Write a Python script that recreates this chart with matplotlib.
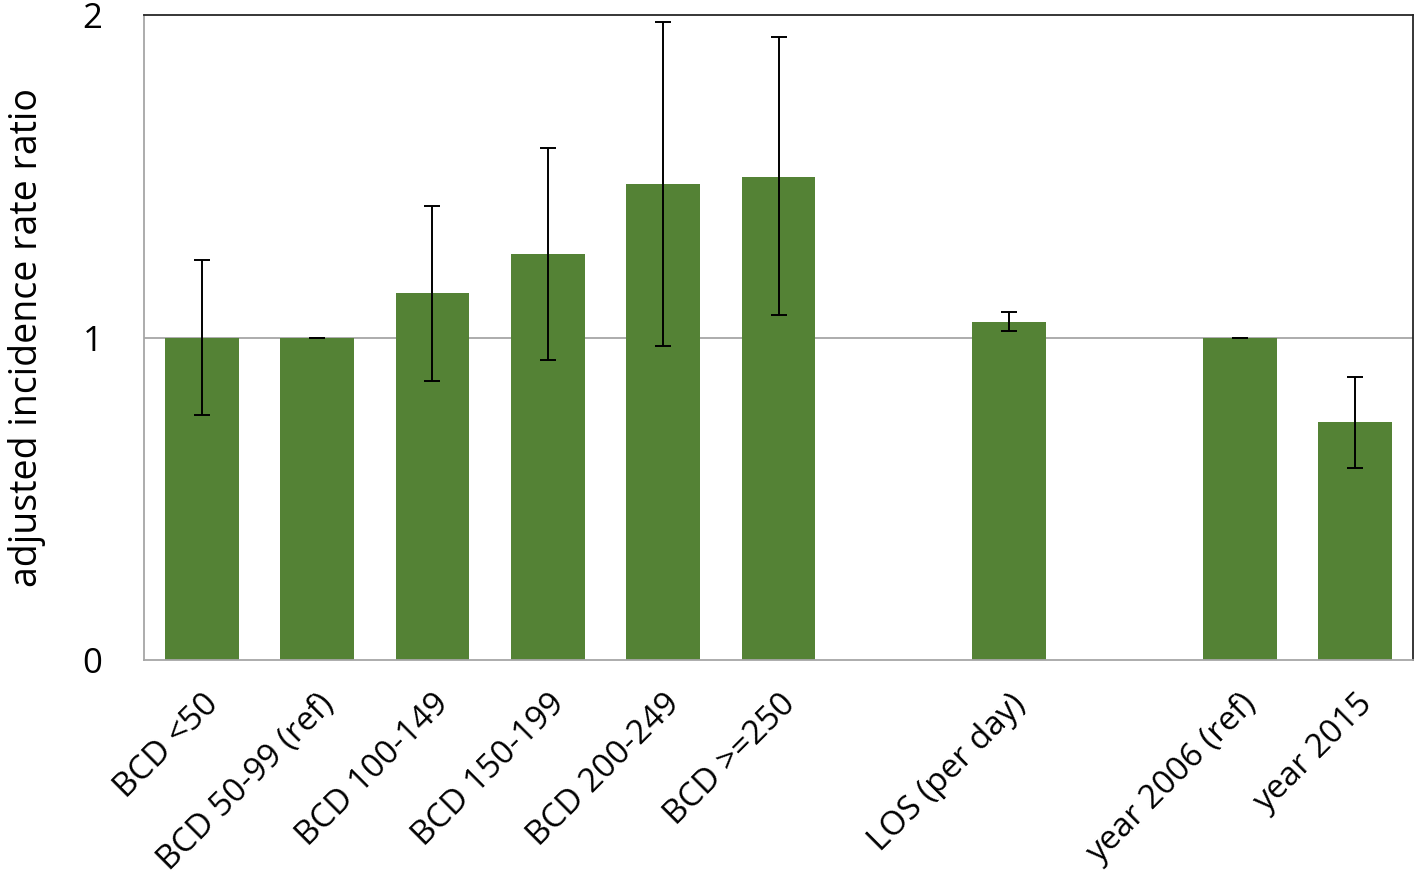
import numpy as np
import matplotlib
matplotlib.use("Agg")
import matplotlib.pyplot as plt

plt.rcParams['font.family'] = ['Open Sans', 'DejaVu Sans']

# empty strings are the gaps between the groups
categories = ["BCD <50", "BCD 50-99 (ref)", "BCD 100-149", "BCD 150-199",
              "BCD 200-249", "BCD >=250", "", "LOS (per day)", "",
              "year 2006 (ref)", "year 2015"]
irr = [1.00, 1.00, 1.138, 1.259, 1.476, 1.498, np.nan, 1.048, np.nan, 1.00, 0.738]
ci_low = [0.76, 1.00, 0.865, 0.930, 0.974, 1.070, np.nan, 1.020, np.nan, 1.00, 0.595]
ci_high = [1.24, 1.00, 1.408, 1.588, 1.978, 1.932, np.nan, 1.079, np.nan, 1.00, 0.878]

irr = np.array(irr)
yerr = np.array([irr - np.array(ci_low), np.array(ci_high) - irr])
x = np.arange(len(categories))

fig = plt.figure(figsize=[14.18, 8.84], dpi=100)
ax = fig.add_axes([0.1016, 0.2534, 0.8949, 0.7296])

ax.axhline(1, color='#a6a6a6', linewidth=1.3, zorder=0)
ax.bar(x, irr, width=0.64, color='#548235', zorder=2)
ax.errorbar(x, irr, yerr=yerr, fmt='none', ecolor='black', elinewidth=1.4,
            capsize=6, capthick=1.4, zorder=3)

ax.set_xlim(-0.5, len(categories) - 0.5)
ax.set_ylim(0, 2)
ax.set_yticks([0, 1, 2])
ax.tick_params(axis='y', length=0, labelsize=25, pad=30)
ax.tick_params(axis='x', length=0, labelsize=24, pad=20)

labelled = [i for i, c in enumerate(categories) if c]
ax.set_xticks(labelled)
ax.set_xticklabels([categories[i] for i in labelled], rotation=45,
                   ha='right', rotation_mode='anchor')
ax.set_ylabel("adjusted incidence rate ratio", fontsize=27, labelpad=26)

for side in ['left', 'bottom']:
    ax.spines[side].set_color('#a6a6a6')
    ax.spines[side].set_linewidth(1.3)
for side in ['top', 'right']:
    ax.spines[side].set_color('#262626')
    ax.spines[side].set_linewidth(1.3)

plt.savefig("out.png", dpi=100)
